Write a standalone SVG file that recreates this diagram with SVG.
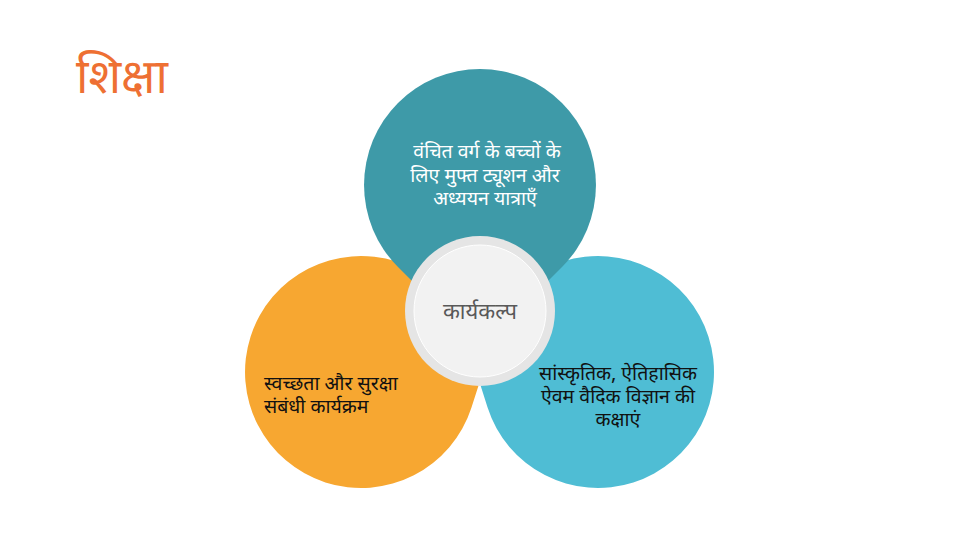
<svg xmlns="http://www.w3.org/2000/svg" width="960" height="540" viewBox="0 0 960 540">
<style>
text{font-family:"Noto Sans Devanagari","Noto Sans","Nirmala UI",sans-serif}
.t{font-size:19.5px}
.w{fill:#ffffff}
.k{fill:#111111}
</style>
<rect width="960" height="540" fill="#ffffff"/>
<text x="76" y="93" style="font-size:48px" fill="#ee7033">शिक्षा</text>
<g id="node-left">
<path d="M396.6,261.6 A116,116 0 1 0 471.4,407.7 L507,297 Z" fill="#f7a731"/>
<text class="t k" x="264" y="390">स्वच्छता और सुरक्षा</text>
<text class="t k" x="264" y="413">संबंधी कार्यक्रम</text>
</g>
<g id="node-right">
<path d="M487.5,407.3 A116,116 0 1 0 562.7,261.5 L452.4,296.7 Z" fill="#4fbdd4"/>
<text class="t k" text-anchor="middle" x="618" y="380">सांस्कृतिक, ऐतिहासिक</text>
<text class="t k" text-anchor="middle" x="618" y="403">ऐवम वैदिक विज्ञान की</text>
<text class="t k" text-anchor="middle" x="618" y="426">कक्षाएं</text>
</g>
<g id="node-top">
<path d="M562,267 A116,116 0 1 0 398,267 L480,349 Z" fill="#3e9aa8"/>
<text class="t w" text-anchor="middle" x="487" y="158">वंचित वर्ग के बच्चों के</text>
<text class="t w" text-anchor="middle" x="485" y="182">लिए मुफ्त ट्यूशन और</text>
<text class="t w" text-anchor="middle" x="485" y="205">अध्ययन यात्राएँ</text>
</g>
<g id="connectors"></g>
<g id="node-center">
<circle cx="480" cy="311" r="75" fill="#e5e5e5"/>
<circle cx="480" cy="311" r="66" fill="#f2f2f2" stroke="#ffffff" stroke-width="1"/>
<text x="480" y="319" text-anchor="middle" style="font-size:22px" fill="#595959">कार्यकल्प</text>
</g>
</svg>
